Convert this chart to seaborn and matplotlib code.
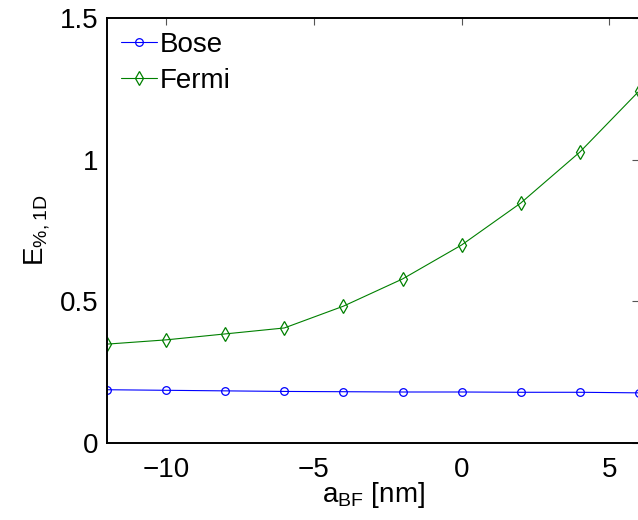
import numpy as np
import pandas as pd
import matplotlib
matplotlib.use("Agg")
import matplotlib.pyplot as plt
import seaborn as sns

# values
a_bf = [-12, -10, -8, -6, -4, -2, 0, 2, 4, 6]
bose = [0.188, 0.186, 0.184, 0.182, 0.181, 0.180, 0.180, 0.179, 0.179, 0.177]
fermi = [0.349, 0.364, 0.385, 0.406, 0.483, 0.579, 0.699, 0.847, 1.027, 1.242]
x_ticks = [-10, -5, 0, 5]
y_ticks = [0, 0.5, 1, 1.5]

sns.set_style("white")
plt.rcParams['font.family'] = ['Liberation Sans', 'DejaVu Sans']
plt.rcParams['mathtext.default'] = 'regular'
plt.rcParams['text.color'] = 'black'
plt.rcParams['axes.labelcolor'] = 'black'
plt.rcParams['xtick.color'] = 'black'
plt.rcParams['ytick.color'] = 'black'

df = pd.DataFrame({"a": a_bf * 2,
                   "E": bose + fermi,
                   "kind": ["Bose"] * len(a_bf) + ["Fermi"] * len(a_bf)})

fig = plt.figure(figsize=(6.38, 5.2), dpi=100)
ax = fig.add_axes([107 / 638, 77 / 520, 532 / 638, 425 / 520])

sns.lineplot(data=df[df.kind == "Bose"], x="a", y="E", ax=ax, color=(0, 0, 1),
             marker="o", markersize=5.5, markerfacecolor="none",
             markeredgecolor=(0, 0, 1), markeredgewidth=0.9, linewidth=0.8,
             label="Bose")
sns.lineplot(data=df[df.kind == "Fermi"], x="a", y="E", ax=ax, color=(0, 0.5, 0),
             marker="d", markersize=7, markerfacecolor="none",
             markeredgecolor=(0, 0.5, 0), markeredgewidth=0.9, linewidth=0.8,
             label="Fermi")

ax.set_xlim(-12, 6)
ax.set_ylim(0, 1.5)
ax.set_xticks(x_ticks)
ax.set_yticks(y_ticks)
ax.set_yticklabels(["0", "0.5", "1", "1.5"])
ax.tick_params(direction="in", length=5, width=0.8, top=True, right=True,
               labelsize=20, color="#555555", labelcolor="black")
ax.tick_params(axis="x", pad=10)
ax.tick_params(axis="y", pad=6)
for s in ax.spines.values():
    s.set_linewidth(1.4)
    s.set_color("black")

ax.set_xlabel("a$_{BF}$ [nm]", fontsize=20, labelpad=-2)
ax.set_ylabel("E$_{\\%,1D}$", fontsize=20, labelpad=6)

leg = ax.legend(loc="upper left", frameon=False, fontsize=20, handlelength=1.3,
                handletextpad=0.1, borderaxespad=0.3, labelspacing=0.35,
                borderpad=0.2)

fig.savefig("out.png", dpi=100)
